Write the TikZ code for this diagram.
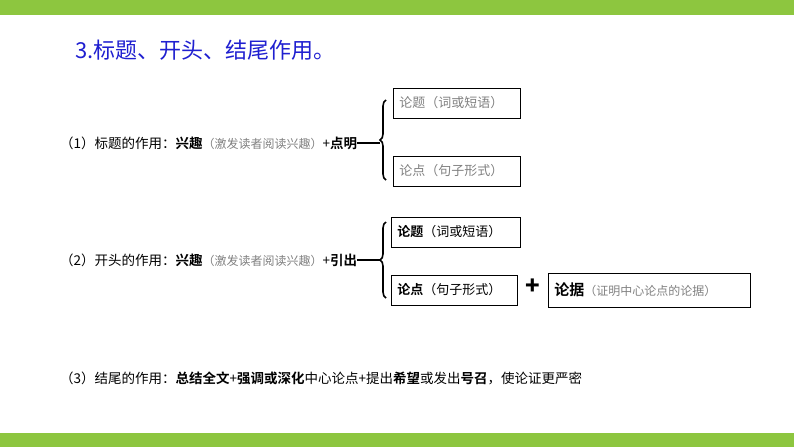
\documentclass[tikz,border=0pt]{standalone}
\usepackage{fontspec}
\setmainfont{Noto Sans CJK SC}
\newfontfamily\cjkb{Noto Sans CJK SC Bold}
\usetikzlibrary{decorations.pathreplacing}
\definecolor{bar}{HTML}{8DC63F}
\definecolor{ttl}{HTML}{1F1FD0}
\tikzset{
  lbl/.style={anchor=west,font=\fontsize{13.5}{15}\selectfont,inner sep=0pt},
  bx/.style={draw,line width=0.8pt,anchor=west,minimum height=30pt,font=\fontsize{13}{14}\selectfont,inner sep=4pt},
  br/.style={decorate,decoration={brace,amplitude=6pt},line width=1.6pt},
}
\begin{document}
\begin{tikzpicture}[x=1pt,y=-1pt]
\useasboundingbox (0,0) rectangle (794,447);
\fill[bar] (0,0) rectangle (794,15);
\fill[bar] (0,433) rectangle (794,447);
\node[anchor=west,text=ttl,font=\fontsize{22}{24}\selectfont,inner sep=0pt] (title) at (75,50) {3.标题、开头、结尾作用。};

\node[lbl] (l1) at (60,143) {（1）标题的作用：{\cjkb 兴趣}{\color{gray}\fontsize{12}{13}\selectfont（激发读者阅读兴趣）}+{\cjkb 点明}};
\node[bx,minimum width=127pt,text width=115pt] (a1) at (393,103) {{\color{gray}论题（词或短语）}};
\node[bx,minimum width=127pt,text width=115pt] (a2) at (393,171) {{\color{gray}论点（句子形式）}};
\draw[br] (386,180) -- (386,100);
\draw[line width=1.6pt] (l1.east) -- (380,143);

\node[lbl] (l2) at (60,260) {（2）开头的作用：{\cjkb 兴趣}{\color{gray}\fontsize{12}{13}\selectfont（激发读者阅读兴趣）}+{\cjkb 引出}};
\node[bx,minimum width=129pt,text width=117pt] (b1) at (391,232) {{\cjkb 论题}（词或短语）};
\node[bx,minimum width=126pt,text width=114pt] (b2) at (391,290) {{\cjkb 论点}（句子形式）};
\node[font=\fontsize{24}{24}\selectfont\bfseries] (plus) at (533,287) {+};
\node[bx,minimum width=202pt,text width=190pt,minimum height=34pt] (b3) at (548,290) {{\cjkb\fontsize{15}{15}\selectfont 论据}{\color{gray}\fontsize{12}{13}\selectfont（证明中心论点的论据）}};
\draw[br] (386,298) -- (386,222);
\draw[line width=1.6pt] (l2.east) -- (380,260);

\node[lbl] (l3) at (60,378) {（3）结尾的作用：{\cjkb 总结全文}+{\cjkb 强调或深化}中心论点+提出{\cjkb 希望}或发出{\cjkb 号召}，使论证更严密};
\end{tikzpicture}
\end{document}
